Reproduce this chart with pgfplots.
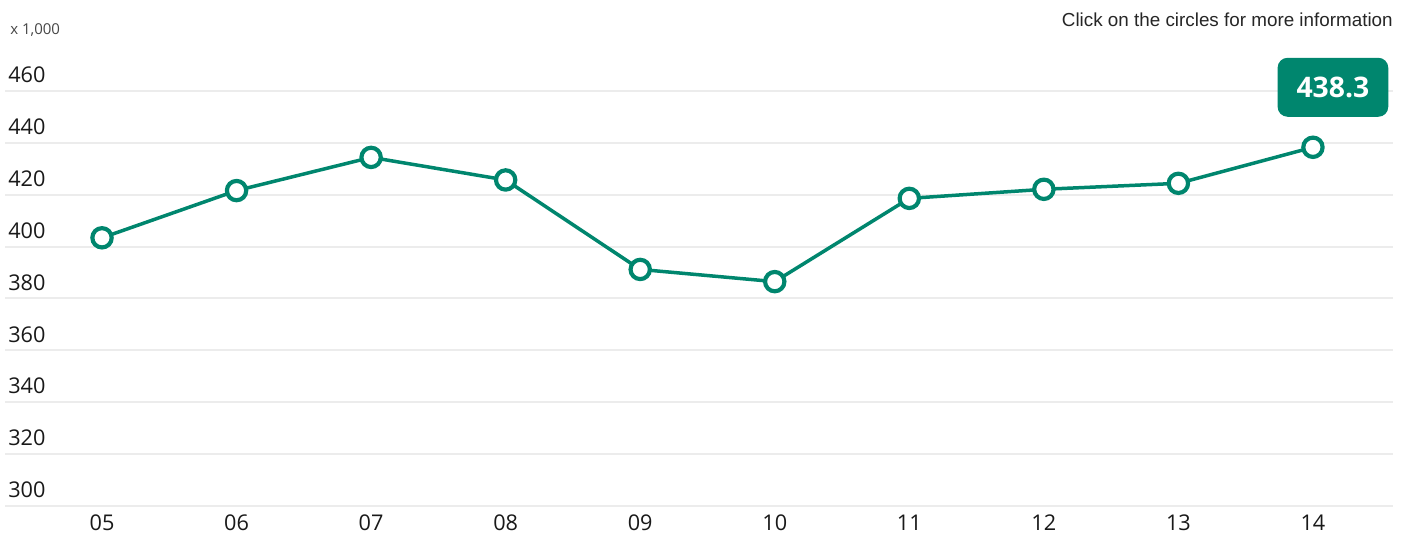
\documentclass[border=0pt]{standalone}
\usepackage{fontspec}
\setmainfont{Open Sans}
\newfontfamily\arialfont{Liberation Sans}
\usepackage{pgfplots}
\pgfplotsset{compat=1.18}
\definecolor{teal}{RGB}{0,134,110}
\definecolor{gridgray}{RGB}{236,236,236}
\definecolor{labgray}{RGB}{70,70,70}
\begin{document}
\begin{tikzpicture}
\useasboundingbox (0,0) rectangle (847.2pt,322.8pt);
\begin{axis}[
  at={(3pt,19.2pt)}, anchor=south west, scale only axis,
  width=832.8pt, height=249pt,
  xmin=-0.721, xmax=9.595, ymin=300, ymax=460,
  axis line style={draw=none},
  major tick length=0pt,
  ytick={300,320,...,460},
  xtick={0,...,9},
  xticklabels={05,06,07,08,09,10,11,12,13,14},
  ymajorgrids,
  grid style={gridgray, line width=1.2pt},
  /pgf/number format/assume math mode=true,
  tick label style={font=\fontsize{13}{14}\selectfont, text=black!90},
  yticklabel style={anchor=base west, inner sep=0pt, xshift=1.8pt, yshift=5pt},
  xticklabel style={anchor=north, inner sep=0pt, yshift=-5pt},
  clip=false,
]
\addplot[teal, line width=2.1pt, mark=*, mark size=5.8pt,
  mark options={fill=white, draw=teal, line width=2.5pt}]
  coordinates {
  (0,403.4) (1,421.6) (2,434.4) (3,425.7) (4,391.2)
  (5,386.5) (6,418.6) (7,422.1) (8,424.4) (9,438.3)};
\node[fill=teal, rounded corners=6pt, minimum width=66.4pt, minimum height=35.4pt,
  inner sep=0pt, text=white, font=\bfseries\fontsize{17}{17}\selectfont,
  xshift=12pt, yshift=36pt] at (axis cs:9,438.3) {438.3};
\end{axis}
\node[anchor=base east, inner sep=0pt, font=\arialfont\fontsize{11.3}{13}\selectfont, text=black!85]
  at (835.8pt,306.6pt) {Click on the circles for more information};
\node[anchor=base west, inner sep=0pt, font=\fontsize{9}{10}\selectfont, text=labgray]
  at (6pt,301.8pt) {x 1,000};
\end{tikzpicture}
\end{document}
